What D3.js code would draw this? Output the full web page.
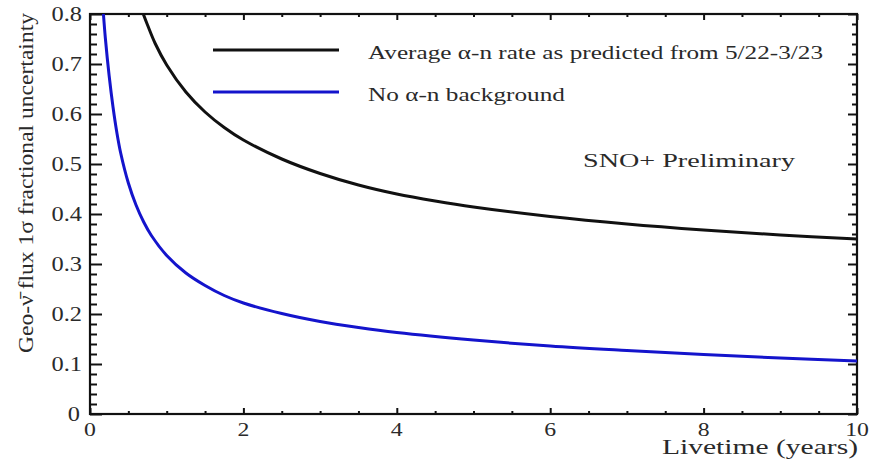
<!DOCTYPE html>
<html>
<head>
<meta charset="utf-8">
<script src="https://cdn.jsdelivr.net/npm/d3@7"></script>
<style>
  html, body { margin: 0; padding: 0; background: #fff; }
  svg { display: block; }
  text { font-family: "Liberation Serif", "DejaVu Serif", serif; fill: #2a2a2a; }
</style>
</head>
<body>
<svg id="chart" width="882" height="460"></svg>
<script>
// ---- data ----
const seriesNames = ["Average \u03B1-n rate as predicted from 5/22-3/23", "No \u03B1-n background"];
const seriesColors = ["#111111", "#1414cc"];

const livetimeAlpha = [0.68, 0.75, 0.85, 1.0, 1.25, 1.5, 1.75, 2.0, 2.5, 3.0, 3.5, 4.0, 4.5, 5.0, 6.0, 7.0, 8.0, 9.0, 10.0];
const uncAlpha      = [0.806, 0.778, 0.741, 0.698, 0.644, 0.604, 0.573, 0.548, 0.510, 0.481, 0.458, 0.440, 0.426, 0.414, 0.395, 0.380, 0.368, 0.358, 0.350];

const livetimeNoAlpha = [0.175, 0.20, 0.25, 0.30, 0.35, 0.40, 0.50, 0.60, 0.70, 0.80, 1.0, 1.25, 1.5, 1.75, 2.0, 2.5, 3.0, 3.5, 4.0, 5.0, 6.0, 7.0, 8.0, 9.0, 10.0];
const uncNoAlpha      = [0.800, 0.752, 0.676, 0.614, 0.563, 0.522, 0.462, 0.418, 0.384, 0.357, 0.317, 0.282, 0.257, 0.237, 0.222, 0.201, 0.185, 0.173, 0.163, 0.148, 0.136, 0.127, 0.119, 0.112, 0.106];

const xTicks = [0, 2, 4, 6, 8, 10];
const xTickLabels = ["0", "2", "4", "6", "8", "10"];
const yTicks = [0, 0.1, 0.2, 0.3, 0.4, 0.5, 0.6, 0.7, 0.8];
const yTickLabels = ["0", "0.1", "0.2", "0.3", "0.4", "0.5", "0.6", "0.7", "0.8"];
const xMinorStep = 0.5;
const yMinorStep = 0.02;

const xTitle = "Livetime (years)";
const yTitle = "Geo-\u03BD\u0304 flux  1\u03C3 fractional uncertainty";
const annotation = "SNO+ Preliminary";

// ---- layout ----
const svg = d3.select("#chart");
const L = 90, R = 857, T = 14, B = 414;
const x = d3.scaleLinear().domain([0, 10]).range([L, R]);
const y = d3.scaleLinear().domain([0, 0.8]).range([B, T]);

const xMinor = d3.range(0, 10 + 1e-9, xMinorStep).filter(v => Math.abs(v / 2 - Math.round(v / 2)) > 1e-6);
const yMinor = d3.range(0, 0.8 + 1e-9, yMinorStep).filter(v => Math.abs(v * 10 - Math.round(v * 10)) > 1e-6);

function styleAxis(g) {
  g.select(".domain").remove();
  g.selectAll(".tick line").attr("stroke", "#111").attr("stroke-width", 2);
  g.selectAll(".tick text").remove();
}

// left axis (ticks inward)
svg.append("g").attr("transform", `translate(${L},0)`)
  .call(d3.axisRight(y).tickValues(yTicks).tickSize(12).tickFormat(""))
  .call(styleAxis);
svg.append("g").attr("transform", `translate(${L},0)`)
  .call(d3.axisRight(y).tickValues(yMinor).tickSize(7).tickFormat(""))
  .call(styleAxis);
// right axis
svg.append("g").attr("transform", `translate(${R},0)`)
  .call(d3.axisLeft(y).tickValues(yTicks).tickSize(9).tickFormat(""))
  .call(styleAxis);
svg.append("g").attr("transform", `translate(${R},0)`)
  .call(d3.axisLeft(y).tickValues(yMinor).tickSize(5).tickFormat(""))
  .call(styleAxis);
// bottom axis
svg.append("g").attr("transform", `translate(0,${B})`)
  .call(d3.axisTop(x).tickValues(xTicks).tickSize(6).tickFormat(""))
  .call(styleAxis);
svg.append("g").attr("transform", `translate(0,${B})`)
  .call(d3.axisTop(x).tickValues(xMinor).tickSize(3).tickFormat(""))
  .call(styleAxis);
// top axis
svg.append("g").attr("transform", `translate(0,${T})`)
  .call(d3.axisBottom(x).tickValues(xTicks).tickSize(6).tickFormat(""))
  .call(styleAxis);
svg.append("g").attr("transform", `translate(0,${T})`)
  .call(d3.axisBottom(x).tickValues(xMinor).tickSize(3).tickFormat(""))
  .call(styleAxis);

// frame
svg.append("rect").attr("x", L).attr("y", T).attr("width", R - L).attr("height", B - T)
  .attr("fill", "none").attr("stroke", "#111").attr("stroke-width", 2.2);

// tick labels
function stretch(sel, f) {
  sel.each(function () {
    const w = this.getComputedTextLength();
    d3.select(this).attr("textLength", w * f).attr("lengthAdjust", "spacingAndGlyphs");
  });
}
svg.append("g").selectAll("text").data(yTicks).join("text")
  .attr("x", v => v === 0 ? 80 : 82).attr("y", v => y(v) + 7)
  .attr("text-anchor", "end").attr("font-size", 20)
  .text((v, i) => yTickLabels[i])
  .call(stretch, 1.22);
svg.append("g").selectAll("text").data(xTicks).join("text")
  .attr("x", v => x(v)).attr("y", 436)
  .attr("text-anchor", "middle").attr("font-size", 19)
  .text((v, i) => xTickLabels[i])
  .call(stretch, 1.25);

// titles
svg.append("text").attr("x", 858).attr("y", 454).attr("text-anchor", "end")
  .attr("font-size", 22).attr("textLength", 196).attr("lengthAdjust", "spacingAndGlyphs")
  .text(xTitle);
svg.append("text").attr("transform", "translate(33,183) rotate(-90)").attr("text-anchor", "middle")
  .attr("font-size", 21).attr("textLength", 340).attr("lengthAdjust", "spacingAndGlyphs")
  .text(yTitle);

svg.append("text").attr("x", 583).attr("y", 167).attr("font-size", 19)
  .attr("textLength", 212).attr("lengthAdjust", "spacingAndGlyphs").text(annotation);

// curves
const line = d3.line().x(d => x(d[0])).y(d => y(d[1])).curve(d3.curveCatmullRom.alpha(0.5));
const series = [
  d3.zip(livetimeAlpha, uncAlpha),
  d3.zip(livetimeNoAlpha, uncNoAlpha)
];
svg.append("defs").append("clipPath").attr("id", "clip")
  .append("rect").attr("x", L).attr("y", T).attr("width", R - L).attr("height", B - T);
svg.append("g").attr("clip-path", "url(#clip)").selectAll("path").data(series).join("path")
  .attr("d", line).attr("fill", "none")
  .attr("stroke", (d, i) => seriesColors[i]).attr("stroke-width", 3);

// legend
const legendY = [50, 92];
const legendW = [455, 197];
const lg = svg.append("g");
lg.selectAll("line").data(seriesNames).join("line")
  .attr("x1", 213).attr("x2", 339).attr("y1", (d, i) => legendY[i]).attr("y2", (d, i) => legendY[i])
  .attr("stroke", (d, i) => seriesColors[i]).attr("stroke-width", 3);
lg.selectAll("text").data(seriesNames).join("text")
  .attr("x", 368).attr("y", (d, i) => legendY[i] + 9).attr("font-size", 19)
  .attr("textLength", (d, i) => legendW[i]).attr("lengthAdjust", "spacingAndGlyphs")
  .text(d => d);
</script>
</body>
</html>
